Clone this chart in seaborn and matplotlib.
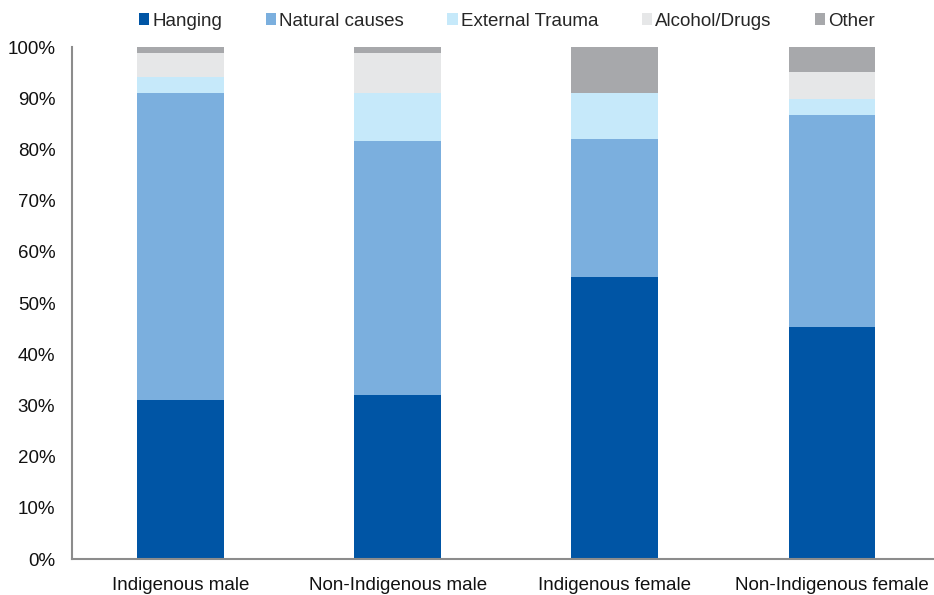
import matplotlib
matplotlib.use("Agg")
import matplotlib.pyplot as plt
import seaborn as sns
import numpy as np
import pandas as pd
from matplotlib.patches import Patch
from matplotlib.ticker import FuncFormatter

categories = ["Indigenous male", "Non-Indigenous male", "Indigenous female", "Non-Indigenous female"]
series_names = ["Hanging", "Natural causes", "External Trauma", "Alcohol/Drugs", "Other"]
hanging = [31.1, 32.0, 55.1, 45.3]
natural = [59.9, 49.6, 26.9, 41.5]
external = [3.1, 9.4, 9.0, 3.1]
alcohol = [4.7, 7.8, 0.0, 5.3]
other = [1.2, 1.2, 9.0, 4.8]
colors = ["#0055A5", "#7BAFDE", "#C6E9FA", "#E6E7E8", "#A7A8AB"]
yticks = [0, 10, 20, 30, 40, 50, 60, 70, 80, 90, 100]

sns.set_theme(style="white")
plt.rcParams["font.family"] = ["Liberation Sans", "DejaVu Sans"]

fig = plt.figure(figsize=(9.34, 5.95), dpi=100)
ax = fig.add_axes([72/934, 1 - 559/595, (934-72)/934, (559-47)/595])

series = [hanging, natural, external, alcohol, other]
cum = np.cumsum(np.array(series), axis=0)
for i in range(len(series) - 1, -1, -1):
    df = pd.DataFrame({"cat": categories, "val": cum[i]})
    sns.barplot(data=df, x="cat", y="val", color=colors[i], width=0.40,
                saturation=1, ax=ax, linewidth=0, order=categories)

ax.set_xlim(-0.5, 3.47)
ax.set_ylim(0, 100)
ax.set_yticks(yticks)
ax.yaxis.set_major_formatter(FuncFormatter(lambda v, p: f"{int(v)}%"))
ax.set_xlabel("")
ax.set_ylabel("")
for s in ["top", "right"]:
    ax.spines[s].set_visible(False)
for s in ["left", "bottom"]:
    ax.spines[s].set_color("#8C8C8C")
    ax.spines[s].set_linewidth(1.5)
ax.tick_params(axis="both", length=0, labelsize=13.5, colors="#111111")
ax.tick_params(axis="y", pad=12)
ax.tick_params(axis="x", pad=13)

handles = [Patch(facecolor=c, edgecolor="none") for c in colors]
fig.legend(handles, series_names, loc="center", bbox_to_anchor=(0.543, 1 - 21/595),
           ncol=5, frameon=False, fontsize=13.5, handlelength=0.55, handleheight=0.55,
           handletextpad=0.18, columnspacing=2.3)

fig.savefig("out.png", dpi=100)
